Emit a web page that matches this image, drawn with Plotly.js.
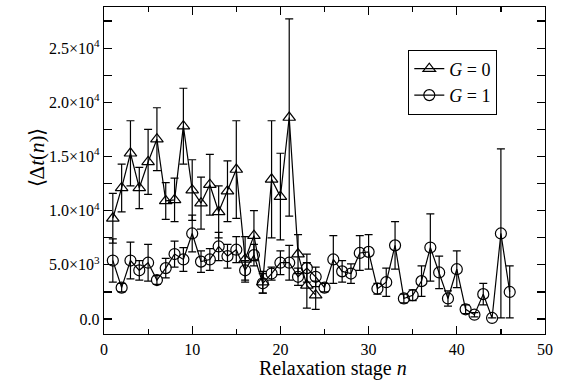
<!DOCTYPE html>
<html>
<head>
<meta charset="utf-8">
<script src="https://cdn.plot.ly/plotly-3.0.1.min.js"></script>
<style>html,body{margin:0;padding:0;background:#fff;}#chart{width:565px;height:380px;}</style>
</head>
<body>
<div id="chart"></div>
<script>
// Relaxation stages
var stagesG0 = [1,2,3,4,5,6,7,8,9,10,11,12,13,14,15,16,17,18,19,20,21,22,23,24];
var valuesG0 = [9300,12100,15300,12100,14500,16600,10900,11000,17800,11900,10700,12400,9900,11800,13800,5500,7700,3400,12900,11300,18600,6000,3100,2200];
var errorsG0 = [2300,2200,3000,1900,3000,2900,1700,2000,3500,2800,2400,2800,2400,2800,4500,2100,2300,1000,5400,4000,9100,1800,2100,1300];

var stagesG1 = [1,2,3,4,5,6,7,8,9,10,11,12,13,14,15,16,17,18,19,20,21,22,23,24,25,26,27,28,29,30,31,32,33,34,35,36,37,38,39,40,41,42,43,44,45,46];
var valuesG1 = [5400,2900,5400,4500,5200,3600,4700,6000,5500,7900,5300,5500,6700,5800,6400,4500,5900,3300,4200,5200,5200,3900,4700,3900,2900,5500,4400,4200,6100,6200,2800,3400,6800,1900,2200,3500,6600,4300,1900,4600,900,400,2300,100,7900,2500];
var errorsG1 = [2000,400,1700,900,1700,400,900,1200,1100,1700,1000,1000,1300,1100,1200,900,1000,900,600,1100,1600,800,1300,900,400,2200,1000,900,1600,1600,500,1300,2200,400,500,1400,3100,1500,700,1700,400,200,1000,0,7800,2400];

var yTickVals = [0,5000,10000,15000,20000,25000];
var yTickText = ['0.0','5.0×10<sup>3</sup>','1.0×10<sup>4</sup>','1.5×10<sup>4</sup>','2.0×10<sup>4</sup>','2.5×10<sup>4</sup>'];
var seriesNames = ['<i>G</i> = 0','<i>G</i> = 1'];
var xTitle = 'Relaxation stage <i>n</i>';
var yTitle = '⟨Δ<i>t</i>(<i>n</i>)⟩';

var font = '"Liberation Serif", "Times New Roman", serif';

var traces = [
  {
    x: stagesG0, y: valuesG0, name: seriesNames[0], type: 'scatter', mode: 'lines+markers',
    line: {color: '#000', width: 1.2},
    marker: {symbol: 'triangle-up-open', size: 11, color: '#000', line: {width: 1.2, color: '#000'}},
    error_y: {type: 'data', array: errorsG0, visible: true, color: '#000', thickness: 1.2, width: 4}
  },
  {
    x: stagesG1, y: valuesG1, name: seriesNames[1], type: 'scatter', mode: 'lines+markers',
    line: {color: '#000', width: 1.2},
    marker: {symbol: 'circle-open', size: 11, color: '#000', line: {width: 1.2, color: '#000'}},
    error_y: {type: 'data', array: errorsG1, visible: true, color: '#000', thickness: 1.2, width: 4}
  }
];

var layout = {
  width: 565, height: 380,
  margin: {l: 104, r: 20, t: 7, b: 46},
  paper_bgcolor: '#fff', plot_bgcolor: '#fff',
  font: {family: font, color: '#000', size: 16},
  showlegend: true,
  legend: {
    x: 0.69, y: 0.87, xanchor: 'left', yanchor: 'top',
    bordercolor: '#000', borderwidth: 1, bgcolor: '#fff',
    font: {family: font, size: 18, color: '#000'},
    itemwidth: 30, tracegroupgap: 0
  },
  xaxis: {
    range: [0, 50], tickmode: 'linear', tick0: 0, dtick: 10,
    ticks: 'inside', ticklen: 8, tickwidth: 1.2, tickcolor: '#000',
    showline: true, linecolor: '#000', linewidth: 1.3, mirror: 'allticks',
    showgrid: false, zeroline: false,
    minor: {tickmode: 'linear', tick0: 0, dtick: 5, ticks: 'inside', ticklen: 5, tickwidth: 1.2, tickcolor: '#000', showgrid: false},
    tickfont: {family: font, size: 16, color: '#000'}
  },
  yaxis: {
    range: [-1380, 28800], tickmode: 'array', tickvals: yTickVals, ticktext: yTickText,
    ticks: 'inside', ticklen: 8, tickwidth: 1.2, tickcolor: '#000',
    showline: true, linecolor: '#000', linewidth: 1.3, mirror: 'allticks',
    showgrid: false, zeroline: false,
    minor: {tickmode: 'linear', tick0: 0, dtick: 2500, ticks: 'inside', ticklen: 8, tickwidth: 1.2, tickcolor: '#000', showgrid: false},
    tickfont: {family: font, size: 16, color: '#000'}
  },
  annotations: [
    {text: xTitle, xref: 'paper', yref: 'paper', x: 0.52, y: -0.068, xanchor: 'center', yanchor: 'top',
     borderpad: 0, showarrow: false, font: {family: font, size: 20, color: '#000'}},
    {text: yTitle, xref: 'paper', yref: 'paper', x: -0.152, y: 0.54, xanchor: 'center', yanchor: 'middle',
     textangle: -90, showarrow: false, font: {family: font, size: 21, color: '#000'}}
  ]
};

Plotly.newPlot('chart', traces, layout, {displayModeBar: false, staticPlot: true});
</script>
</body>
</html>
